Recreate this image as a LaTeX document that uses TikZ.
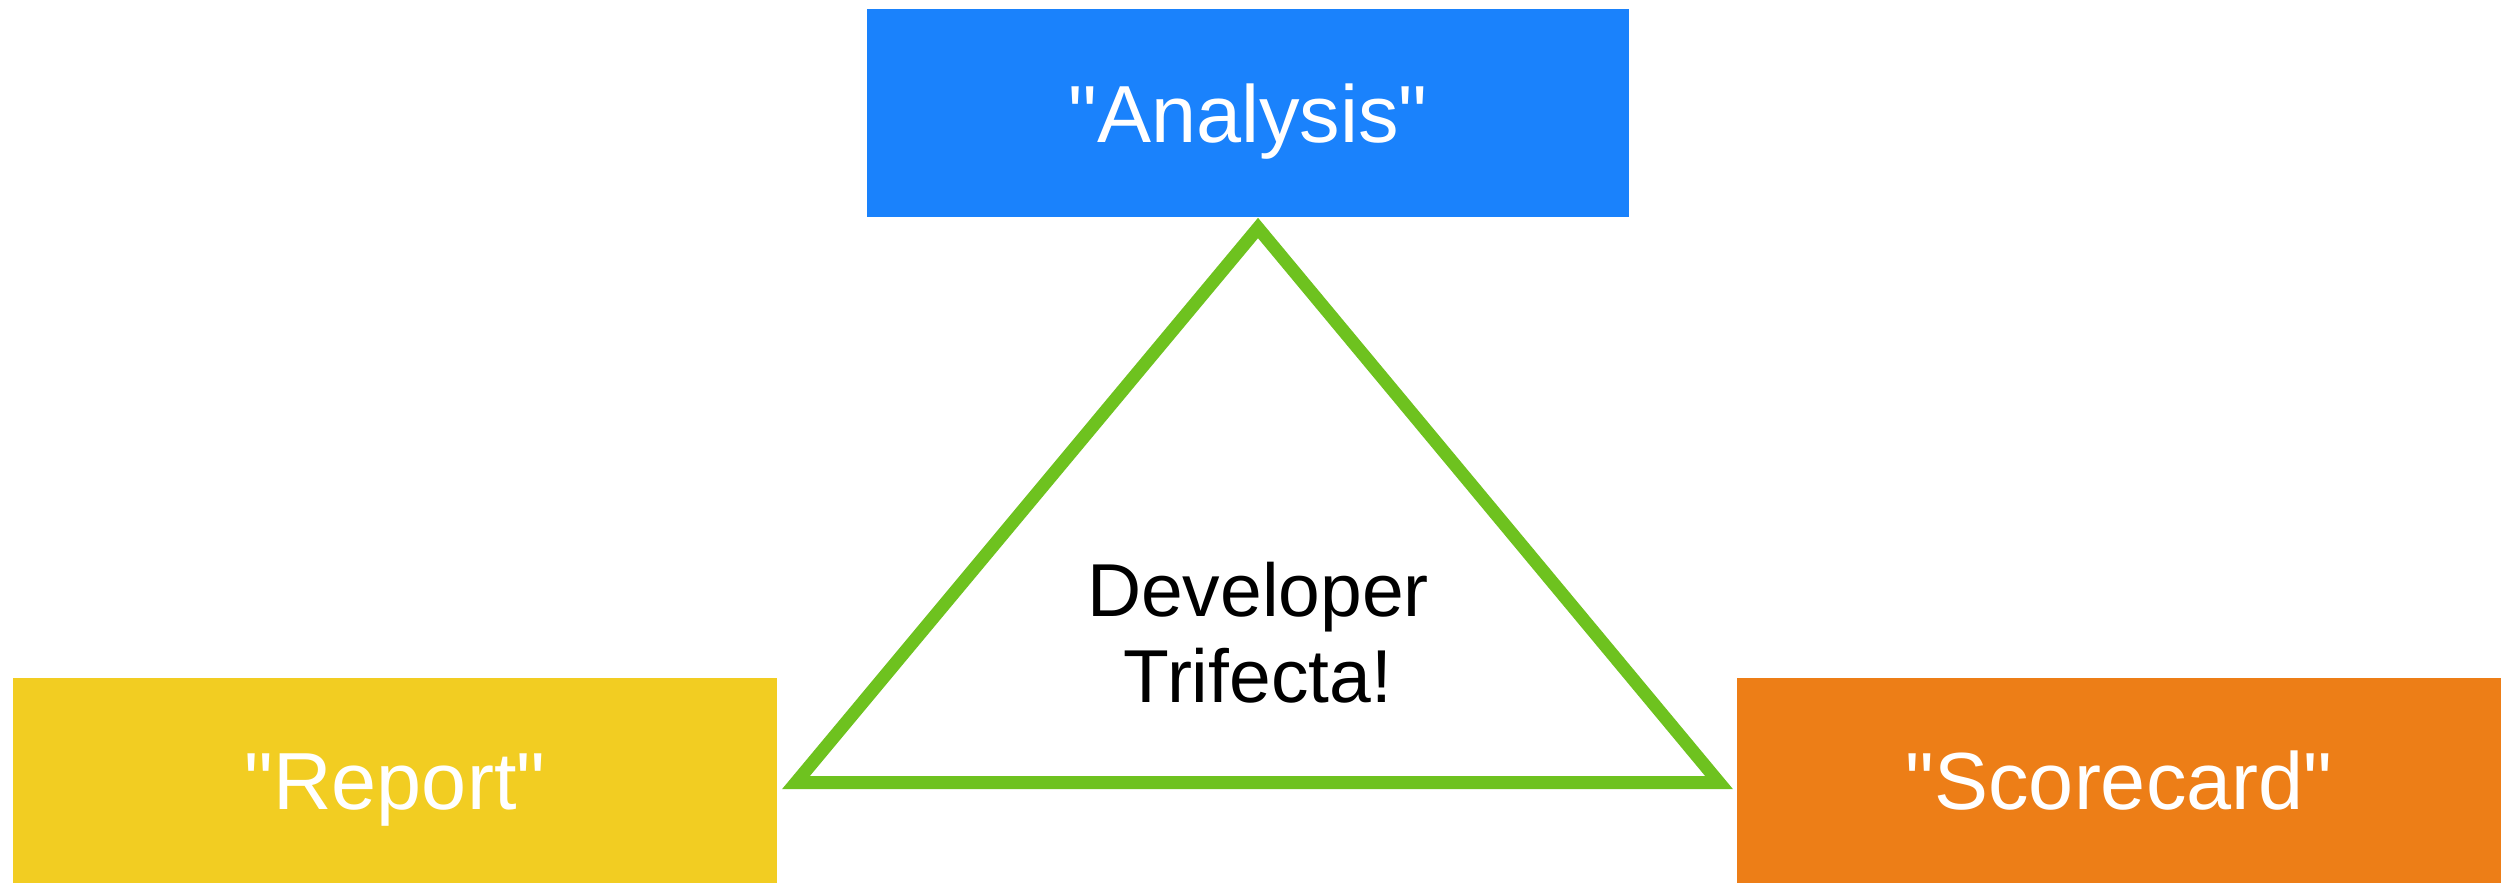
\documentclass[tikz,border=0pt]{standalone}
\usepackage{fontspec}
\setmainfont{Liberation Sans}[Ligatures=TeXOff]
\definecolor{boxblue}{RGB}{26,130,252}
\definecolor{boxyellow}{RGB}{242,205,34}
\definecolor{boxorange}{RGB}{237,126,23}
\definecolor{trigreen}{RGB}{110,194,31}
\tikzset{
  label box/.style={rectangle, inner sep=0pt, text=white,
    font=\fontsize{81}{93}\selectfont, text height=58pt, text depth=0pt},
}
\begin{document}
\begin{tikzpicture}[x=1pt, y=-1pt]
  \useasboundingbox[fill=white] (0,0) rectangle (2512,883);
  % the three labelled boxes
  \node[label box, fill=boxblue, minimum width=762pt, minimum height=208pt]
    (analysis) at (1248,113) {"Analysis"};
  \node[label box, fill=boxyellow, minimum width=764pt, minimum height=205pt]
    (report) at (395,780.5) {"Report"};
  \node[label box, fill=boxorange, minimum width=764pt, minimum height=205pt]
    (scorecard) at (2119,780.5) {"Scorecard"};
  % the triangle between them
  \coordinate (apex) at (1258,228);
  \coordinate (baseL) at (796,782.5);
  \coordinate (baseR) at (1719,782.5);
  \draw[trigreen, line width=13pt, miter limit=10] (apex) -- (baseR) -- (baseL) -- cycle;
  \node[align=center, font=\fontsize{75}{86}\selectfont, inner sep=0pt]
    (trifecta) at (1258,633) {Developer\\Trifecta!};
\end{tikzpicture}
\end{document}
